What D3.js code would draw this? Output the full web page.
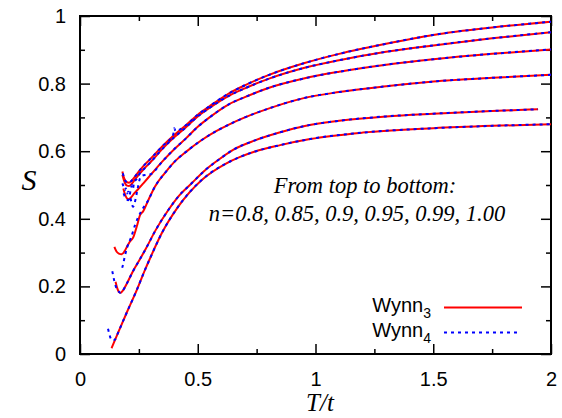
<!DOCTYPE html>
<html><head><meta charset="utf-8">
<script src="https://cdn.jsdelivr.net/npm/d3@7"></script>
<style>
body{margin:0;background:#fff;}
svg{display:block;}
.tick text{font-family:"Liberation Sans",Arial,sans-serif;font-size:20px;fill:#000;}
</style></head>
<body><svg id="c" width="562" height="418"></svg>
<script>
// ---- data (T/t, S) ----
const seriesNames = ["n=0.8","n=0.85","n=0.9","n=0.95","n=0.99","n=1.00"];
const wynn3_n080 = [[0.180,0.540],[0.185,0.525],[0.192,0.513],[0.2,0.508],[0.208,0.507],[0.218,0.512],[0.23,0.522],[0.25,0.54],[0.269,0.556],[0.3,0.578],[0.35,0.615],[0.4,0.648],[0.45,0.677],[0.5,0.708],[0.55,0.733],[0.63,0.77],[0.7,0.795],[0.8,0.825],[0.95,0.86],[1.1,0.888],[1.3,0.918],[1.5,0.944],[1.75,0.966],[2.0,0.983]];
const wynn3_n085 = [[0.180,0.530],[0.186,0.515],[0.193,0.503],[0.2,0.498],[0.208,0.497],[0.218,0.502],[0.23,0.513],[0.25,0.531],[0.269,0.546],[0.3,0.568],[0.35,0.607],[0.4,0.641],[0.45,0.671],[0.5,0.703],[0.55,0.728],[0.63,0.763],[0.7,0.786],[0.8,0.814],[0.95,0.846],[1.1,0.869],[1.3,0.894],[1.5,0.913],[1.75,0.934],[2.0,0.952]];
const wynn3_n090 = [[0.184,0.490],[0.19,0.475],[0.197,0.463],[0.205,0.458],[0.215,0.462],[0.23,0.475],[0.25,0.49],[0.269,0.505],[0.3,0.53],[0.35,0.57],[0.4,0.606],[0.45,0.638],[0.5,0.672],[0.55,0.7],[0.63,0.738],[0.7,0.76],[0.8,0.787],[0.95,0.815],[1.1,0.835],[1.3,0.856],[1.5,0.872],[1.75,0.888],[2.0,0.901]];
const wynn3_n095 = [[0.146,0.317],[0.155,0.303],[0.165,0.297],[0.177,0.295],[0.19,0.305],[0.2,0.318],[0.212,0.333],[0.226,0.345],[0.241,0.377],[0.255,0.411],[0.268,0.422],[0.29,0.455],[0.318,0.495],[0.36,0.535],[0.403,0.57],[0.45,0.598],[0.517,0.633],[0.58,0.66],[0.63,0.678],[0.7,0.7],[0.8,0.726],[0.95,0.757],[1.1,0.775],[1.3,0.792],[1.5,0.806],[1.75,0.817],[2.0,0.826]];
const wynn3_n099 = [[0.151,0.214],[0.158,0.195],[0.165,0.184],[0.172,0.181],[0.18,0.186],[0.2,0.21],[0.225,0.245],[0.25,0.275],[0.28,0.312],[0.32,0.365],[0.375,0.426],[0.42,0.468],[0.474,0.505],[0.53,0.543],[0.587,0.574],[0.65,0.604],[0.743,0.632],[0.85,0.656],[0.95,0.674],[1.1,0.69],[1.3,0.703],[1.5,0.711],[1.75,0.719],[1.945,0.724]];
const wynn3_n100 = [[0.134,0.017],[0.16,0.06],[0.2,0.125],[0.241,0.189],[0.276,0.249],[0.3,0.287],[0.347,0.357],[0.417,0.436],[0.517,0.515],[0.616,0.562],[0.68,0.583],[0.743,0.599],[0.85,0.618],[0.977,0.636],[1.2,0.655],[1.5,0.668],[1.75,0.675],[2.0,0.680]];

const wynn4_n080 = [[0.182,0.535],[0.19,0.515],[0.2,0.508],[0.208,0.507],[0.218,0.512],[0.23,0.522],[0.25,0.54],[0.269,0.556],[0.3,0.578],[0.35,0.615],[0.396,0.65],[0.4,0.668],[0.406,0.66],[0.45,0.677],[0.5,0.708],[0.55,0.733],[0.63,0.77],[0.7,0.795],[0.8,0.825],[0.95,0.86],[1.1,0.888],[1.3,0.918],[1.5,0.944],[1.75,0.966],[2.0,0.983]];
const wynn4_n085 = [[0.18,0.505],[0.185,0.495],[0.19,0.485],[0.195,0.49],[0.2,0.475],[0.205,0.48],[0.21,0.47],[0.215,0.485],[0.22,0.5],[0.225,0.49],[0.23,0.51],[0.24,0.517],[0.25,0.53],[0.26,0.54],[0.269,0.546],[0.3,0.568],[0.35,0.607],[0.4,0.641],[0.45,0.671],[0.5,0.703],[0.55,0.728],[0.63,0.763],[0.7,0.786],[0.8,0.814],[0.95,0.846],[1.1,0.869],[1.3,0.894],[1.5,0.913],[1.75,0.934],[2.0,0.952]];
const wynn4_n090 = [[0.185,0.475],[0.195,0.46],[0.205,0.455],[0.212,0.465],[0.218,0.45],[0.225,0.436],[0.235,0.455],[0.245,0.49],[0.255,0.52],[0.265,0.528],[0.28,0.53],[0.3,0.532],[0.35,0.57],[0.4,0.606],[0.45,0.638],[0.5,0.672],[0.55,0.7],[0.63,0.738],[0.7,0.76],[0.8,0.787],[0.95,0.815],[1.1,0.835],[1.3,0.856],[1.5,0.872],[1.75,0.888],[2.0,0.901]];
const wynn4_n095 = [[0.179,0.255],[0.183,0.265],[0.19,0.288],[0.2,0.315],[0.217,0.345],[0.234,0.382],[0.248,0.406],[0.262,0.425],[0.29,0.455],[0.318,0.495],[0.36,0.535],[0.403,0.57],[0.45,0.598],[0.517,0.633],[0.58,0.66],[0.63,0.678],[0.7,0.7],[0.8,0.726],[0.95,0.757],[1.1,0.775],[1.3,0.792],[1.5,0.806],[1.75,0.817],[2.0,0.826]];
const wynn4_n099 = [[0.137,0.245],[0.141,0.232],[0.146,0.215],[0.152,0.2],[0.158,0.19],[0.165,0.184],[0.172,0.181],[0.18,0.186],[0.2,0.21],[0.225,0.245],[0.25,0.275],[0.28,0.312],[0.32,0.365],[0.375,0.426],[0.42,0.468],[0.474,0.505],[0.53,0.543],[0.587,0.574],[0.65,0.604],[0.743,0.632],[0.85,0.656],[0.95,0.674],[1.1,0.69],[1.3,0.703],[1.5,0.711],[1.75,0.719],[1.945,0.724]];
const wynn4_n100 = [[0.119,0.075],[0.125,0.058],[0.131,0.045],[0.14,0.04],[0.15,0.044],[0.16,0.06],[0.2,0.125],[0.241,0.189],[0.276,0.249],[0.3,0.287],[0.347,0.357],[0.417,0.436],[0.517,0.515],[0.616,0.562],[0.68,0.583],[0.743,0.599],[0.85,0.618],[0.977,0.636],[1.2,0.655],[1.5,0.668],[1.75,0.675],[2.0,0.680]];

const wynn3 = [wynn3_n080,wynn3_n085,wynn3_n090,wynn3_n095,wynn3_n099,wynn3_n100];
const wynn4 = [wynn4_n080,wynn4_n085,wynn4_n090,wynn4_n095,wynn4_n099,wynn4_n100];

const xTicks = [0,0.5,1,1.5,2];
const xTickLabels = ["0","0.5","1","1.5","2"];
const xMinor = [0.25,0.75,1.25,1.75];
const yTicks = [0,0.2,0.4,0.6,0.8,1];
const yTickLabels = ["0","0.2","0.4","0.6","0.8","1"];
const yMinor = [0.1,0.3,0.5,0.7,0.9];
const legendLabels = [["Wynn","3"],["Wynn","4"]];
const noteLines = ["From top to bottom:","n=0.8, 0.85, 0.9, 0.95, 0.99, 1.00"];

// ---- drawing ----
const svg = d3.select("#c");
const L=80,R=551,T=16,B=354;
const x = d3.scaleLinear().domain([0,2]).range([L,R]);
const y = d3.scaleLinear().domain([0,1]).range([B,T]);

function ax(gen, tr, vals, size, labels, pad){
  const g = svg.append("g").attr("transform",tr)
    .call(gen.tickValues(vals).tickSize(size).tickSizeOuter(0).tickPadding(pad)
      .tickFormat((d,i)=>labels?labels[i]:""));
  g.select(".domain").remove();
  g.selectAll(".tick line").attr("stroke","#000").attr("stroke-width",1.5);
  return g;
}
ax(d3.axisBottom(x),`translate(0,${B})`,xTicks,-10,xTickLabels,18);
ax(d3.axisBottom(x),`translate(0,${B})`,xMinor,-5,null,3);
ax(d3.axisTop(x),`translate(0,${T})`,xTicks,-10,null,3);
ax(d3.axisTop(x),`translate(0,${T})`,xMinor,-5,null,3);
ax(d3.axisLeft(y),`translate(${L},0)`,yTicks,-10,yTickLabels,14);
ax(d3.axisLeft(y),`translate(${L},0)`,yMinor,-5,null,3);
ax(d3.axisRight(y),`translate(${R},0)`,yTicks,-10,null,3);
ax(d3.axisRight(y),`translate(${R},0)`,yMinor,-5,null,3);

svg.append("rect").attr("x",L).attr("y",T).attr("width",R-L).attr("height",B-T)
  .attr("fill","none").attr("stroke","#000").attr("stroke-width",2);

const line = d3.line().x(d=>x(d[0])).y(d=>y(d[1])).curve(d3.curveMonotoneX);

svg.append("g").selectAll("path").data(wynn3).join("path")
  .attr("d",line).attr("fill","none").attr("stroke","#ff0000").attr("stroke-width",2);
svg.append("g").selectAll("path").data(wynn4).join("path")
  .attr("d",line).attr("fill","none").attr("stroke","#0000ff").attr("stroke-width",2)
  .attr("stroke-dasharray","3,4");

// note text
const note = svg.append("g").attr("font-family","'Liberation Serif','Times New Roman',serif")
  .attr("font-style","italic").attr("font-size",22.5).attr("text-anchor","middle");
note.selectAll("text").data(noteLines).join("text")
  .attr("x",(d,i)=>i?357:365).attr("y",(d,i)=>193+i*28).text(d=>d);

// axis titles
svg.append("text").attr("x",320).attr("y",411).attr("text-anchor","middle")
  .attr("font-family","'Liberation Serif',serif").attr("font-style","italic").attr("font-size",25).text("T/t");
svg.append("text").attr("x",29).attr("y",190).attr("text-anchor","middle")
  .attr("font-family","'Liberation Serif',serif").attr("font-style","italic").attr("font-size",30).text("S");

// legend
const lg = svg.append("g").attr("font-family","'Liberation Sans',Arial,sans-serif").attr("font-size",20);
const legY = [312,337];
const legColors = ["#ff0000","#0000ff"];
legendLabels.forEach((lab,i)=>{
  const t = lg.append("text").attr("x",431).attr("y",legY[i]).attr("text-anchor","end");
  t.append("tspan").text(lab[0]);
  t.append("tspan").attr("font-size",14).attr("dy",6).text(lab[1]);
  lg.append("line").attr("x1",444).attr("x2",i?518:522).attr("y1",legY[i]-4.5).attr("y2",legY[i]-4.5)
    .attr("stroke",legColors[i]).attr("stroke-width",2).attr("stroke-dasharray",i?"3,4":null);
});
</script></body></html>
